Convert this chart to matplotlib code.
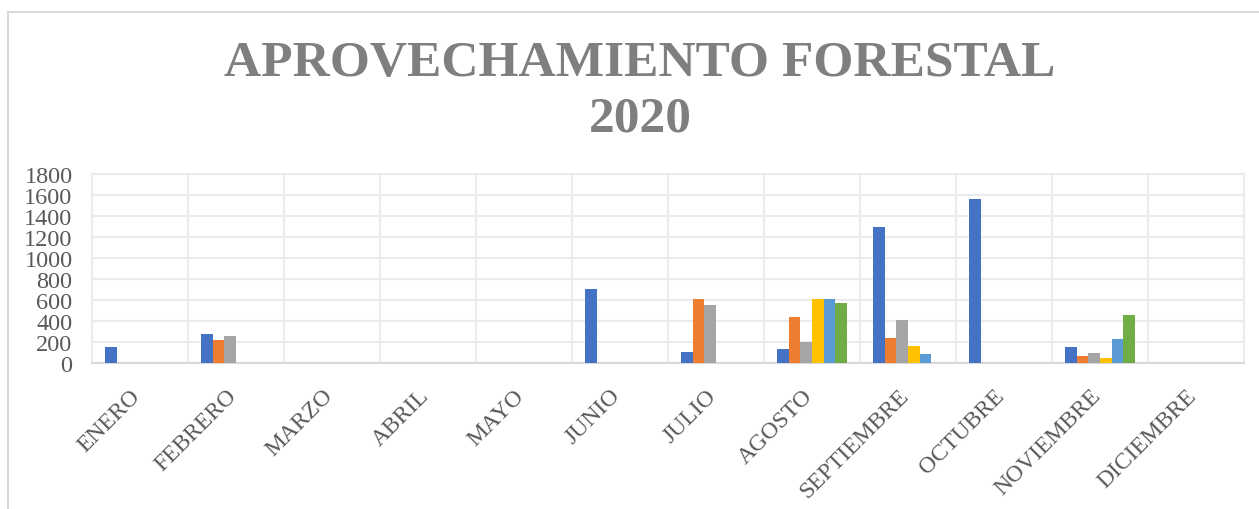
import matplotlib
matplotlib.use("Agg")
import matplotlib.pyplot as plt
import numpy as np
from matplotlib.lines import Line2D
from matplotlib.transforms import Affine2D

# ---------------------------------------------------------------------------
# Data
# ---------------------------------------------------------------------------
MONTHS = ["ENERO", "FEBRERO", "MARZO", "ABRIL", "MAYO", "JUNIO", "JULIO",
          "AGOSTO", "SEPTIEMBRE", "OCTUBRE", "NOVIEMBRE", "DICIEMBRE"]

SERIES_1 = [145, 275, 0, 0, 0, 700, 105, 125, 1295, 1565, 145, 0]
SERIES_2 = [0, 215, 0, 0, 0, 0, 605, 430, 235, 0, 65, 0]
SERIES_3 = [0, 255, 0, 0, 0, 0, 550, 200, 410, 0, 90, 0]
SERIES_4 = [0, 0, 0, 0, 0, 0, 0, 605, 160, 0, 45, 0]
SERIES_5 = [0, 0, 0, 0, 0, 0, 0, 605, 85, 0, 220, 0]
SERIES_6 = [0, 0, 0, 0, 0, 0, 0, 565, 0, 0, 450, 0]

Y_TICKS = [0, 200, 400, 600, 800, 1000, 1200, 1400, 1600, 1800]

COLORS = ["#4472C4", "#ED7D31", "#A5A5A5", "#FFC000", "#5B9BD5", "#70AD47"]
TEXT_GRAY = "#595959"
TITLE_GRAY = "#7F7F7F"
GRID_GRAY = "#EBEBEB"
BORDER_GRAY = "#D9D9D9"
SERIF = ["Liberation Serif", "DejaVu Serif"]

W, H = 1259, 510

fig = plt.figure(figsize=(W / 100, H / 100), dpi=100)
ax = fig.add_axes([92 / W, 1 - 363.5 / H, (1244 - 92) / W, (363.5 - 175) / H])

series = [SERIES_1, SERIES_2, SERIES_3, SERIES_4, SERIES_5, SERIES_6]
x = np.arange(len(MONTHS))
bar_w = 0.122
n = len(series)
for i, (vals, col) in enumerate(zip(series, COLORS)):
    ax.bar(x + (i - (n - 1) / 2) * bar_w, vals, bar_w, color=col,
           linewidth=0, zorder=3)

ax.set_xlim(-0.5, len(MONTHS) - 0.5)
ax.set_ylim(0, 1800)
ax.set_yticks(Y_TICKS)
ax.set_yticklabels([str(v) for v in Y_TICKS], family=SERIF, fontsize=17.5,
                   color=TEXT_GRAY)

# vertical gridlines at category boundaries
ax.set_xticks(np.arange(-0.5, len(MONTHS), 1.0), minor=True)
ax.grid(True, which="minor", axis="x", color=GRID_GRAY, linewidth=1.5, zorder=0)
ax.grid(True, which="major", axis="y", color=GRID_GRAY, linewidth=1.5, zorder=0)
ax.set_xticks(x)
ax.set_xticklabels(MONTHS, family=SERIF, fontsize=17, color=TEXT_GRAY,
                   rotation=45, ha="right", va="top", rotation_mode="anchor")
ax.tick_params(axis="both", which="both", length=0)
ax.tick_params(axis="x", pad=16)
ax.tick_params(axis="y", pad=14)

# nudge the rotated month labels left, as in the reference
for lab in ax.get_xticklabels():
    lab.set_transform(lab.get_transform() + Affine2D().translate(-10, 0))

for sp in ax.spines.values():
    sp.set_color(GRID_GRAY)
    sp.set_linewidth(1.5)
ax.spines["bottom"].set_color(BORDER_GRAY)

# title
fig.text(640 / W, 1 - 92 / H, "APROVECHAMIENTO FORESTAL\n2020", family=SERIF,
         fontsize=37, fontweight="bold", color=TITLE_GRAY, ha="center",
         va="center", linespacing=1.27)

# outer chart border (top and left edges visible)
fig.add_artist(Line2D([8 / W, 1], [1 - 13 / H, 1 - 13 / H], color=BORDER_GRAY,
                      linewidth=1.5, transform=fig.transFigure))
fig.add_artist(Line2D([8 / W, 8 / W], [0, 1 - 13 / H], color=BORDER_GRAY,
                      linewidth=1.5, transform=fig.transFigure))

fig.savefig("out.png", dpi=100)
